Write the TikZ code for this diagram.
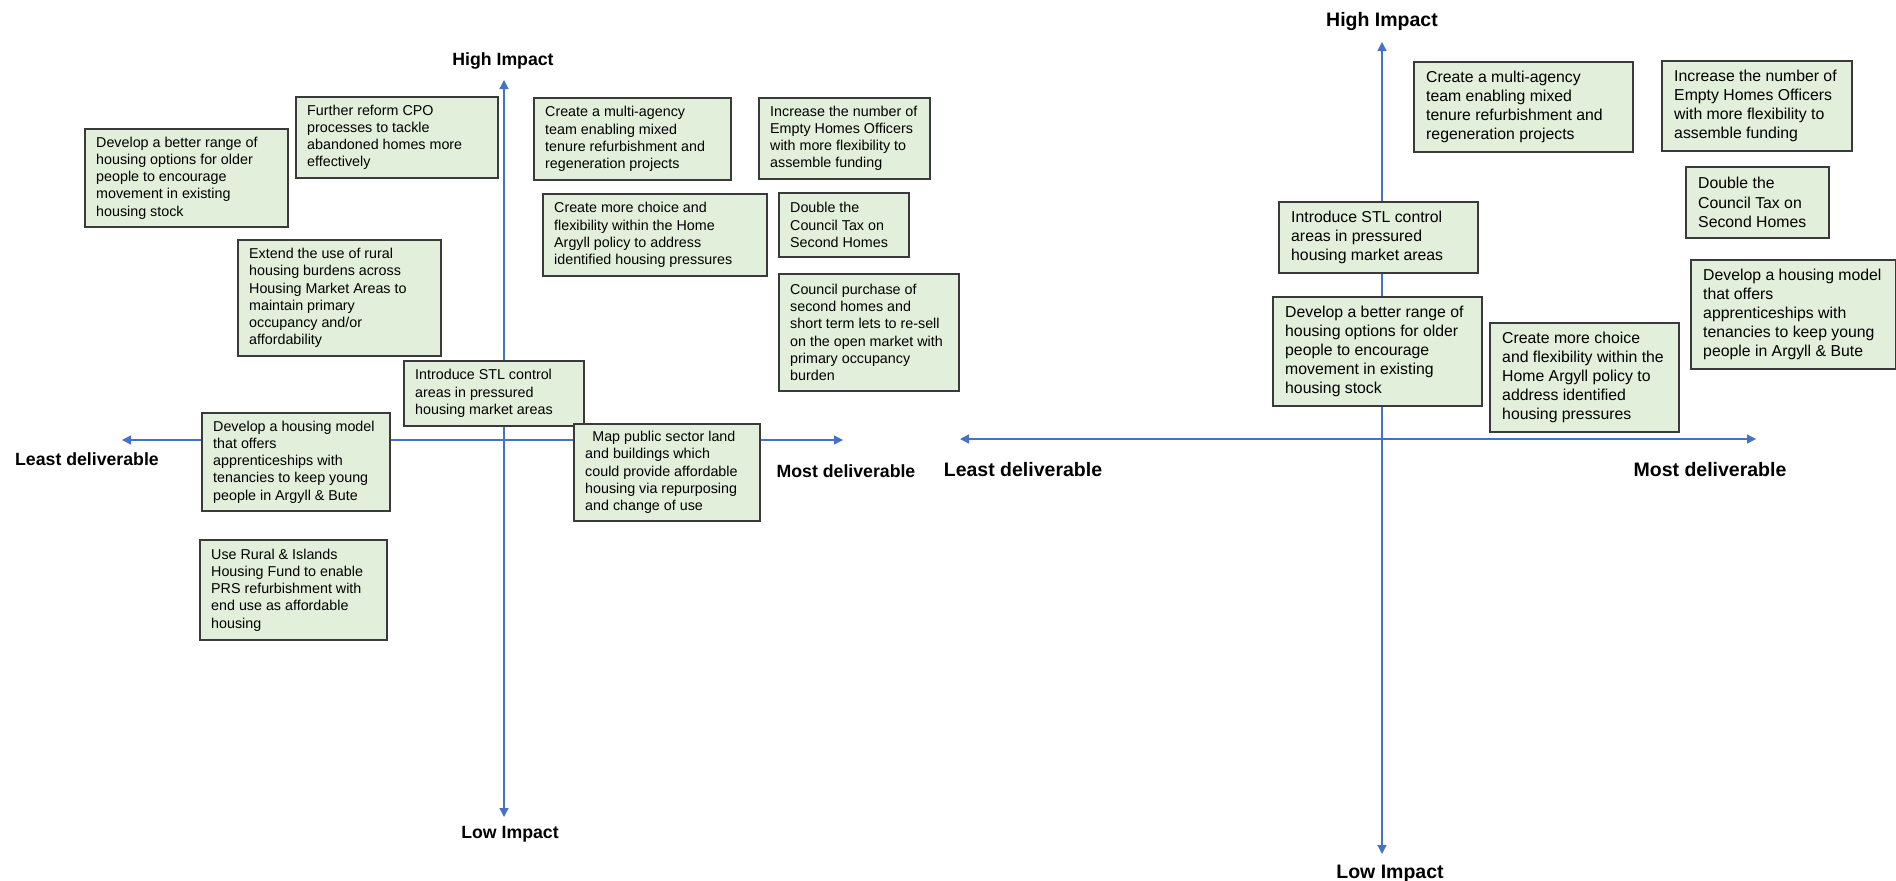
\documentclass[tikz,border=0pt]{standalone}
\usepackage{fontspec}
\setmainfont{Liberation Sans}
\usetikzlibrary{arrows.meta}
\definecolor{boxfill}{HTML}{E2EFDA}
\definecolor{boxline}{HTML}{3A3A3A}
\definecolor{axisblue}{HTML}{4472C4}
\tikzset{
  box/.style={draw=boxline, fill=boxfill, line width=1.8pt, inner sep=0pt, anchor=north west},
  txtL/.style={inner sep=0pt, align=left, anchor=west, font=\fontsize{14.3}{17.2}\selectfont},
  txtR/.style={inner sep=0pt, align=left, anchor=west, font=\fontsize{15.8}{19.1}\selectfont},
  axis/.style={draw=axisblue, line width=1.3pt, {Triangle[length=9pt,width=9pt]}-{Triangle[length=9pt,width=9pt]}},
  lblL/.style={font=\bfseries\fontsize{17.7}{20}\selectfont, anchor=base, inner sep=0pt},
  lblR/.style={font=\bfseries\fontsize{19.5}{22}\selectfont, anchor=base, inner sep=0pt},
}
\newcommand{\qboxL}[6]{\node[box, minimum width=#4pt, minimum height=#5pt] (#1) at (#2,#3) {};
  \node[txtL] (#1t) at ([xshift=12pt]#1.west) {#6};}
\newcommand{\qboxR}[6]{\node[box, minimum width=#4pt, minimum height=#5pt] (#1) at (#2,#3) {};
  \node[txtR] (#1t) at ([xshift=13pt]#1.west) {#6};}
\begin{document}
\begin{tikzpicture}[x=1pt, y=-1pt]
\useasboundingbox (0,0) rectangle (1896,881);
\fill[white] (0,0) rectangle (1896,881);

% ---------- left chart axes ----------
\coordinate (LT) at (504,80);
\coordinate (LB) at (504,817);
\coordinate (LL) at (122,440);
\coordinate (LR) at (843,440);
\draw[axis] (LB) -- (LT);
\draw[axis] (LL) -- (LR);
\node[lblL] (lhigh) at (503,65) {High Impact};
\node[lblL] (llow) at (510,838) {Low Impact};
\node[lblL] (lleast) at (87,465) {Least deliverable};
\node[lblL] (lmost) at (846,477) {Most deliverable};

% ---------- left chart boxes ----------
\qboxL{a1}{84}{128}{203}{98}{Develop a better range of\\housing options for older\\people to encourage\\movement in existing\\housing stock}
\qboxL{a2}{295}{96}{202}{81}{Further reform CPO\\processes to tackle\\abandoned homes more\\effectively}
\qboxL{a3}{237}{239}{203}{116}{Extend the use of rural\\housing burdens across\\Housing Market Areas to\\maintain primary\\occupancy and/or\\affordability}
\qboxL{a4}{533}{97}{197}{82}{Create a multi-agency\\team enabling mixed\\tenure refurbishment and\\regeneration projects}
\qboxL{a5}{758}{97}{171}{81}{Increase the number of\\Empty Homes Officers\\with more flexibility to\\assemble funding}
\qboxL{a6}{542}{193}{224}{82}{Create more choice and\\flexibility within the Home\\Argyll policy to address\\identified housing pressures}
\qboxL{a7}{778}{192}{130}{64}{Double the\\Council Tax on\\Second Homes}
\qboxL{a8}{778}{273}{180}{117}{Council purchase of\\second homes and\\short term lets to re-sell\\on the open market with\\primary occupancy\\burden}
\qboxL{a9}{403}{360}{180}{65}{Introduce STL control\\areas in pressured\\housing market areas}
\qboxL{a10}{573}{423}{186}{97}{\hspace*{0.5em}Map public sector land\\and buildings which\\could provide affordable\\housing via repurposing\\and change of use}
\qboxL{a11}{201}{412}{188}{98}{Develop a housing model\\that offers\\apprenticeships with\\tenancies to keep young\\people in Argyll \& Bute}
\qboxL{a12}{199}{539}{187}{100}{Use Rural \& Islands\\Housing Fund to enable\\PRS refurbishment with\\end use as affordable\\housing}

% ---------- right chart axes ----------
\coordinate (RT) at (1382,42);
\coordinate (RB) at (1382,854);
\coordinate (RL) at (960,439);
\coordinate (RR) at (1756,439);
\draw[axis] (RB) -- (RT);
\draw[axis] (RL) -- (RR);
\node[lblR] (rhigh) at (1382,26) {High Impact};
\node[lblR] (rlow) at (1390,878) {Low Impact};
\node[lblR] (rleast) at (1023,476) {Least deliverable};
\node[lblR] (rmost) at (1710,476) {Most deliverable};

% ---------- right chart boxes ----------
\qboxR{b1}{1413}{61}{219}{90}{Create a multi-agency\\team enabling mixed\\tenure refurbishment and\\regeneration projects}
\qboxR{b2}{1661}{60}{190}{90}{Increase the number of\\Empty Homes Officers\\with more flexibility to\\assemble funding}
\qboxR{b3}{1685}{166}{143}{71}{Double the\\Council Tax on\\Second Homes}
\qboxR{b4}{1690}{259}{205}{109}{Develop a housing model\\that offers\\apprenticeships with\\tenancies to keep young\\people in Argyll \& Bute}
\qboxR{b5}{1489}{322}{189}{109}{Create more choice\\and flexibility within the\\Home Argyll policy to\\address identified\\housing pressures}
\qboxR{b6}{1278}{201}{199}{71}{Introduce STL control\\areas in pressured\\housing market areas}
\qboxR{b7}{1272}{296}{209}{109}{Develop a better range of\\housing options for older\\people to encourage\\movement in existing\\housing stock}
\end{tikzpicture}
\end{document}
